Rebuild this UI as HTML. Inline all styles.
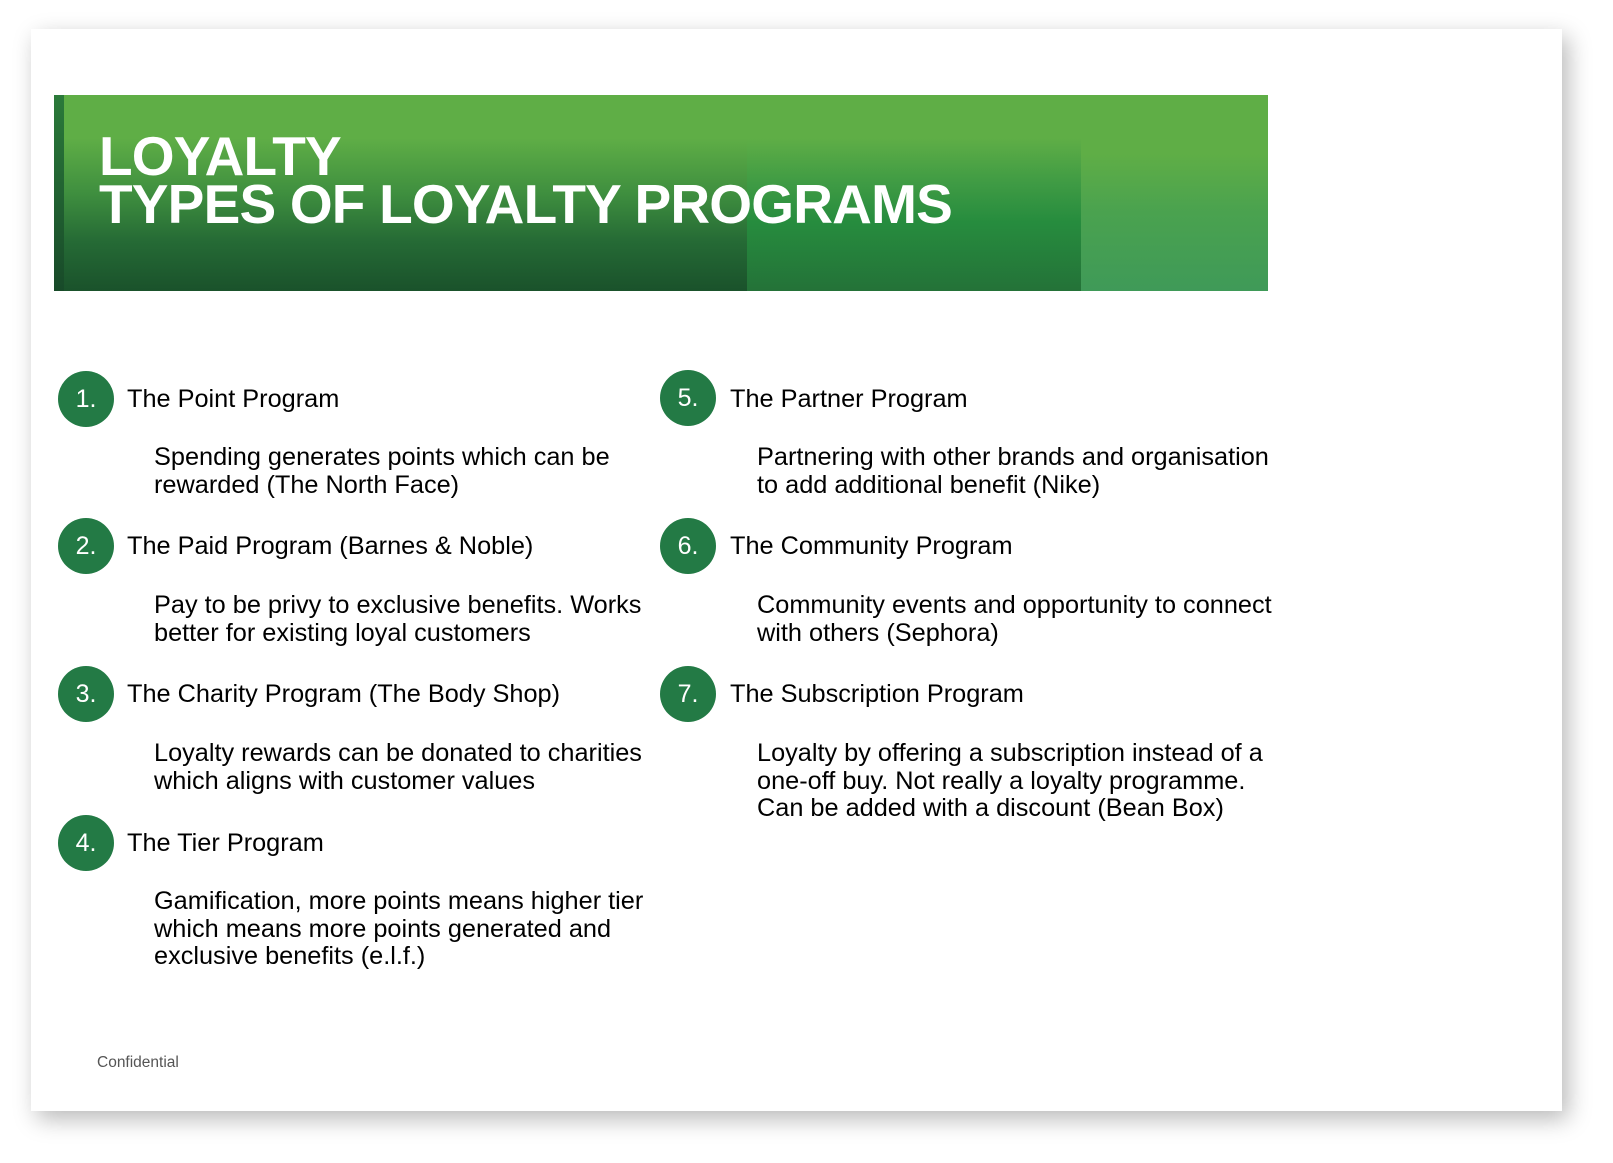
<!DOCTYPE html>
<html><head><meta charset="utf-8">
<style>
body{margin:0;width:1613px;height:1163px;background:#fff;position:relative;overflow:hidden;font-family:"Liberation Sans",Arial,sans-serif;}
.slide{position:absolute;left:31px;top:29px;width:1531px;height:1082px;background:#fff;box-shadow:6px 8px 22px rgba(0,0,0,0.28);}
.banner{position:absolute;left:54px;top:95px;width:1214px;height:196px;overflow:hidden;}
.seg{position:absolute;top:0;height:100%;}
.s1{left:0;width:693px;background:linear-gradient(#5fae46 0%,#5fae46 22%,#3f8f3f 50%,#256a35 75%,#1a522b 100%);}
.s2{left:693px;width:334px;background:linear-gradient(#5fae46 0%,#5fae46 22%,#3f9b44 45%,#268c3e 65%,#247238 100%);}
.s3{left:1027px;width:187px;background:linear-gradient(#5fae46 0%,#5fae46 30%,#4aa24f 60%,#3f9a58 100%);}
.strip{position:absolute;left:0;top:0;width:10px;height:100%;background:linear-gradient(#2b7a3a,#184a29);}
.title{position:absolute;left:99px;top:132px;color:#fff;font-weight:bold;font-size:55px;line-height:48px;letter-spacing:-0.8px;margin:0;}
.circle{position:absolute;width:56px;height:56px;border-radius:50%;background:#237a45;color:#fff;font-size:25px;line-height:56px;text-align:center;}
.h{position:absolute;font-size:25.3px;color:#000;line-height:28px;}
.b{position:absolute;font-size:25.3px;color:#000;line-height:27.5px;}
.conf{position:absolute;left:97px;top:1054px;font-size:15.5px;color:#555;}
</style></head><body>
<div class="slide"></div>
<div class="banner">
<div class="seg s1"></div><div class="seg s2"></div><div class="seg s3"></div><div class="strip"></div>
</div>
<h1 class="title">LOYALTY<br>TYPES OF LOYALTY PROGRAMS</h1>

<div class="circle" style="left:58px;top:371px">1.</div>
<div class="h" style="left:127px;top:385px">The Point Program</div>
<div class="b" style="left:154px;top:444px">Spending generates points which can be<br>rewarded (The North Face)</div>

<div class="circle" style="left:58px;top:518px">2.</div>
<div class="h" style="left:127px;top:532px">The Paid Program (Barnes &amp; Noble)</div>
<div class="b" style="left:154px;top:592px">Pay to be privy to exclusive benefits. Works<br>better for existing loyal customers</div>

<div class="circle" style="left:58px;top:666px">3.</div>
<div class="h" style="left:127px;top:680px">The Charity Program (The Body Shop)</div>
<div class="b" style="left:154px;top:740px">Loyalty rewards can be donated to charities<br>which aligns with customer values</div>

<div class="circle" style="left:58px;top:815px">4.</div>
<div class="h" style="left:127px;top:829px">The Tier Program</div>
<div class="b" style="left:154px;top:888px">Gamification, more points means higher tier<br>which means more points generated and<br>exclusive benefits (e.l.f.)</div>

<div class="circle" style="left:660px;top:370px">5.</div>
<div class="h" style="left:730px;top:385px">The Partner Program</div>
<div class="b" style="left:757px;top:444px">Partnering with other brands and organisation<br>to add additional benefit (Nike)</div>

<div class="circle" style="left:660px;top:518px">6.</div>
<div class="h" style="left:730px;top:532px">The Community Program</div>
<div class="b" style="left:757px;top:592px">Community events and opportunity to connect<br>with others (Sephora)</div>

<div class="circle" style="left:660px;top:666px">7.</div>
<div class="h" style="left:730px;top:680px">The Subscription Program</div>
<div class="b" style="left:757px;top:740px">Loyalty by offering a subscription instead of a<br>one-off buy. Not really a loyalty programme.<br>Can be added with a discount (Bean Box)</div>

<div class="conf">Confidential</div>
</body></html>
